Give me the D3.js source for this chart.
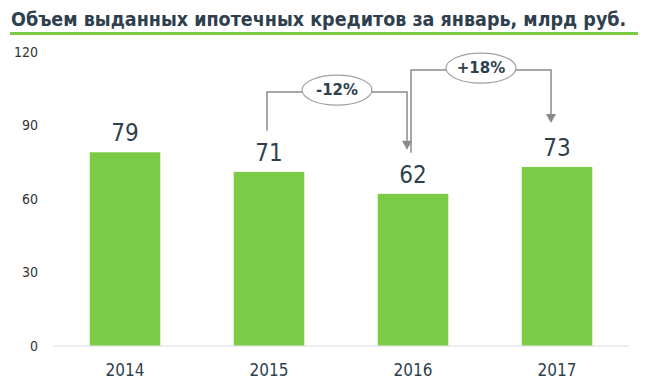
<!DOCTYPE html>
<html>
  <head>
    <meta charset="utf-8">
    <script src="https://cdnjs.cloudflare.com/ajax/libs/d3/7.8.5/d3.min.js"></script>
    <style>
      body { margin: 0; background: #fff; }
      text { font-family: "DejaVu Sans Condensed", "DejaVu Sans", sans-serif; }
    </style>
  </head>
  <body>
  <script>
    // data
    let years = ["2014", "2015", "2016", "2017"];
    let values = [79, 71, 62, 73];
    let yTicks = [0, 30, 60, 90, 120];
    let changeFrom = ["2015", "2016"];
    let changeTo = ["2016", "2017"];
    let changeLabels = ["-12%", "+18%"];
    let changeLevels = [103.6, 112.6]; // bracket height, in value units

    let title = "Объем выданных ипотечных кредитов за январь, млрд руб.";

    let green = "#7acc46";
    let textColor = "#2f3f4d";
    let arrowColor = "#8a8a8a";

    let svg = d3.select("body").append("svg")
        .attr("width", 656)
        .attr("height", 384);

    // title + green rule
    let titleText = svg.append("text")
        .attr("x", 11)
        .attr("y", 26)
        .style("font-weight", "bold")
        .style("font-size", "21px")
        .style("fill", textColor)
        .text(title);
    // shrink font until it fits the rule width
    let fs = 21;
    while (titleText.node().getComputedTextLength() > 616 && fs > 12) {
        fs -= 0.25;
        titleText.style("font-size", fs + "px");
    }

    svg.append("rect")
        .attr("x", 10)
        .attr("y", 32)
        .attr("width", 628)
        .attr("height", 3)
        .attr("fill", green);

    let x = d3.scaleBand()
        .domain(years)
        .range([53, 629])
        .paddingInner(0.51)
        .paddingOuter(0.255);

    let y = d3.scaleLinear()
        .domain([0, 120])
        .range([345.5, 52]);

    // y labels
    svg.selectAll(".ylab")
        .data(yTicks)
        .enter()
        .append("text")
            .attr("class", "ylab")
            .attr("x", 38)
            .attr("y", function(d){ return y(d) + 5; })
            .attr("text-anchor", "end")
            .style("font-size", "14px")
            .style("fill", "#333")
            .text(function(d){ return d; });

    // baseline
    svg.append("line")
        .attr("x1", 53)
        .attr("x2", 629)
        .attr("y1", y(0) + 0.5)
        .attr("y2", y(0) + 0.5)
        .attr("stroke", "#e3e7ea")
        .attr("stroke-width", 1.5);

    // bars
    svg.selectAll(".bar")
        .data(values)
        .enter()
        .append("rect")
            .attr("class", "bar")
            .attr("x", function(d, i){ return x(years[i]); })
            .attr("y", function(d){ return y(d); })
            .attr("width", x.bandwidth())
            .attr("height", function(d){ return y(0) - y(d); })
            .attr("fill", green);

    // value labels
    svg.selectAll(".val")
        .data(values)
        .enter()
        .append("text")
            .attr("class", "val")
            .attr("x", function(d, i){ return x(years[i]) + x.bandwidth() / 2; })
            .attr("y", function(d){ return y(d) - 11; })
            .attr("text-anchor", "middle")
            .style("font-size", "24px")
            .style("fill", textColor)
            .text(function(d){ return d; });

    // year labels
    svg.selectAll(".year")
        .data(years)
        .enter()
        .append("text")
            .attr("class", "year")
            .attr("x", function(d){ return x(d) + x.bandwidth() / 2; })
            .attr("y", 376)
            .attr("text-anchor", "middle")
            .style("font-size", "17px")
            .style("fill", textColor)
            .text(function(d){ return d; });

    // change brackets
    function valueOf(year){ return values[years.indexOf(year)]; }

    changeLabels.forEach(function(label, i){
        let x1 = x(changeFrom[i]) + x.bandwidth() / 2 - 2;
        let x2 = x(changeTo[i]) + x.bandwidth() / 2 - 6;
        let yStart = y(valueOf(changeFrom[i])) - 41;
        let yEnd = y(valueOf(changeTo[i])) - 44;
        let yTop = y(changeLevels[i]);
        let cx = (x1 + x2) / 2;

        let g = svg.append("g");
        g.append("path")
            .attr("d", d3.line()([[x1, yStart], [x1, yTop], [x2, yTop], [x2, yEnd - 9]]))
            .attr("fill", "none")
            .attr("stroke", arrowColor)
            .attr("stroke-width", 1.5);
        g.append("path")
            .attr("d", d3.line()([[x2 - 5, yEnd - 9], [x2 + 5, yEnd - 9], [x2, yEnd]]) + "Z")
            .attr("fill", arrowColor);
        g.append("ellipse")
            .attr("cx", cx)
            .attr("cy", yTop - 2)
            .attr("rx", 35)
            .attr("ry", 15)
            .attr("fill", "#fff")
            .attr("stroke", "#a0a0a0")
            .attr("stroke-width", 1.2);
        g.append("text")
            .attr("x", cx)
            .attr("y", yTop + 3)
            .attr("text-anchor", "middle")
            .style("font-family", "'DejaVu Sans', sans-serif")
            .style("font-weight", "bold")
            .style("font-size", "15px")
            .style("fill", textColor)
            .text(label);
    });
  </script>
  </body>
</html>
